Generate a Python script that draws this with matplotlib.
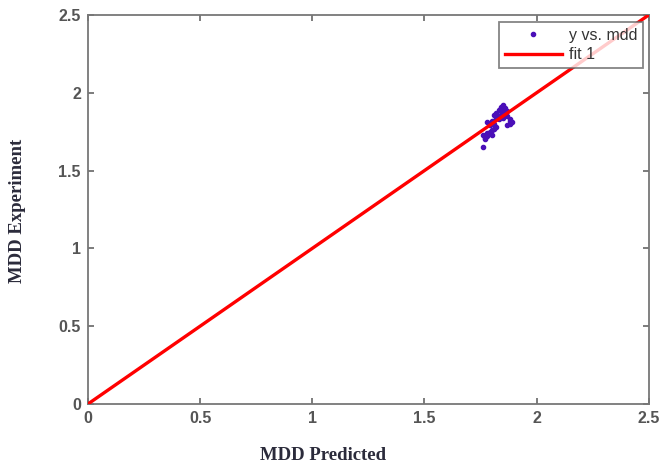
import numpy as np
import matplotlib
matplotlib.use("Agg")
import matplotlib.pyplot as plt

# measured MDD values (predicted vs experiment)
mdd_pred = [1.76, 1.77, 1.78, 1.76, 1.78, 1.79, 1.77, 1.80, 1.79, 1.78,
            1.80, 1.81, 1.82, 1.81, 1.82, 1.83, 1.83, 1.84, 1.84, 1.85,
            1.85, 1.86, 1.84, 1.86, 1.87, 1.83, 1.82, 1.85, 1.87, 1.88,
            1.88, 1.89, 1.88, 1.87, 1.86, 1.81, 1.80, 1.79, 1.84, 1.85]
mdd_exp = [1.65, 1.70, 1.72, 1.73, 1.74, 1.75, 1.71, 1.73, 1.80, 1.81,
           1.82, 1.80, 1.84, 1.86, 1.87, 1.85, 1.89, 1.88, 1.90, 1.92,
           1.89, 1.90, 1.86, 1.87, 1.88, 1.83, 1.78, 1.84, 1.85, 1.82,
           1.80, 1.81, 1.83, 1.79, 1.86, 1.77, 1.76, 1.79, 1.91, 1.86]
fit_slope = 1.0
fit_x = [0, 2.5]

fig = plt.figure(figsize=(6.71, 4.66), dpi=100)
ax = fig.add_axes([0.131, 0.133, 0.836, 0.835])

ax.plot(mdd_pred, mdd_exp, '.', color='#4a0fb8', markersize=6, label='y vs. mdd', zorder=3)
ax.plot(fit_x, [fit_slope * v for v in fit_x], '-', color='#ff0000', lw=2.4, label='fit 1', zorder=4)

ax.set_xlim(0, 2.5)
ax.set_ylim(0, 2.5)
ticks = [0, 0.5, 1, 1.5, 2, 2.5]
ax.set_xticks(ticks)
ax.set_yticks(ticks)
ax.set_xticklabels(['0', '0.5', '1', '1.5', '2', '2.5'])
ax.set_yticklabels(['0', '0.5', '1', '1.5', '2', '2.5'])
ax.tick_params(direction='in', length=4, width=1.2, colors='#666666',
               labelsize=11.5, labelcolor='#555555', top=True, right=True, pad=5)
for lbl in ax.get_xticklabels() + ax.get_yticklabels():
    lbl.set_family('Liberation Sans')
    lbl.set_fontweight('bold')
for sp in ax.spines.values():
    sp.set_color('#777777')
    sp.set_linewidth(1.3)

ax.set_xlabel('MDD Predicted', family='Liberation Serif', fontweight='bold', fontsize=13.5,
              color='#2b2b3b')
ax.set_ylabel('MDD Experiment', family='Liberation Serif', fontweight='bold', fontsize=13.5,
              color='#2b2b3b')
ax.xaxis.set_label_coords(0.419, -0.11)
ax.yaxis.set_label_coords(-0.111, 0.496)

leg = ax.legend(loc='upper right', prop={'family': 'Liberation Sans', 'size': 11.5},
                frameon=True, fancybox=False, borderpad=0.35, handlelength=3.6,
                labelspacing=0.3, handletextpad=0.4,
                bbox_to_anchor=(0.989, 0.982), borderaxespad=0)
leg.get_frame().set_edgecolor('#666666')
leg.get_frame().set_linewidth(1.3)
for t in leg.get_texts():
    t.set_color('#333333')

fig.savefig('out.png', dpi=100)
